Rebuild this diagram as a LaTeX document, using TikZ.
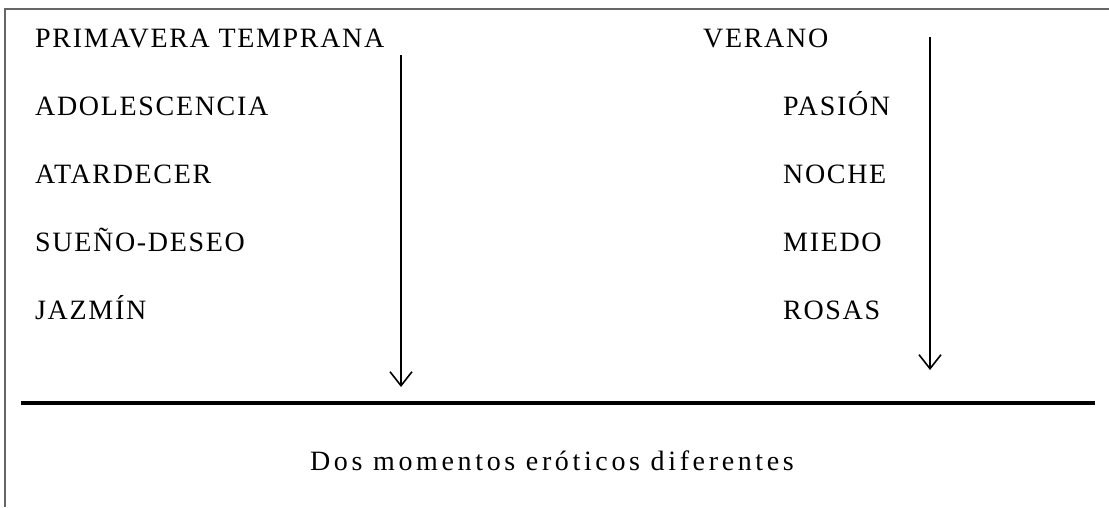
\documentclass[tikz,border=0pt]{standalone}
\usepackage{fontspec}
\setmainfont{Liberation Serif}
\newfontfamily\capsfont{Liberation Serif}[LetterSpace=6]
\newfontfamily\lowfont{Liberation Serif}[LetterSpace=13]
\usetikzlibrary{arrows.meta}
\begin{document}
\begin{tikzpicture}[x=1pt,y=-1pt,
  lbl/.style={anchor=base west,inner sep=0pt,font=\capsfont\fontsize{28}{32}\selectfont},
  arr/.style={line width=1.8pt,-{Straight Barb[length=14pt,width=22pt,line width=1.6pt]}},
  frame/.style={draw=gray!80!black,line width=1.5pt}]
\useasboundingbox (0,0) rectangle (1109,507);
\draw[frame] (5,507) -- (5,9) -- (1109,9);
\node[lbl] (a1) at (35,47) {PRIMAVERA TEMPRANA};
\node[lbl] (a2) at (35,115) {ADOLESCENCIA};
\node[lbl] (a3) at (35,183) {ATARDECER};
\node[lbl] (a4) at (35,251) {SUEÑO-DESEO};
\node[lbl] (a5) at (35,319) {JAZMÍN};
\node[lbl] (b1) at (703,47) {VERANO};
\node[lbl] (b2) at (783,115) {PASIÓN};
\node[lbl] (b3) at (783,183) {NOCHE};
\node[lbl] (b4) at (783,251) {MIEDO};
\node[lbl] (b5) at (783,319) {ROSAS};
\coordinate (l1) at (401,55);
\coordinate (l2) at (401,387);
\coordinate (r1) at (930,37);
\coordinate (r2) at (930,370);
\draw[arr] (l1) -- (l2);
\draw[arr] (r1) -- (r2);
\coordinate (h1) at (21,403);
\coordinate (h2) at (1095,403);
\draw[line width=3.5pt] (h1) -- (h2);
\node[anchor=base,inner sep=0pt,font=\lowfont\fontsize{28}{32}\selectfont] (c) at (552,470) {Dos momentos eróticos diferentes};
\end{tikzpicture}
\end{document}
